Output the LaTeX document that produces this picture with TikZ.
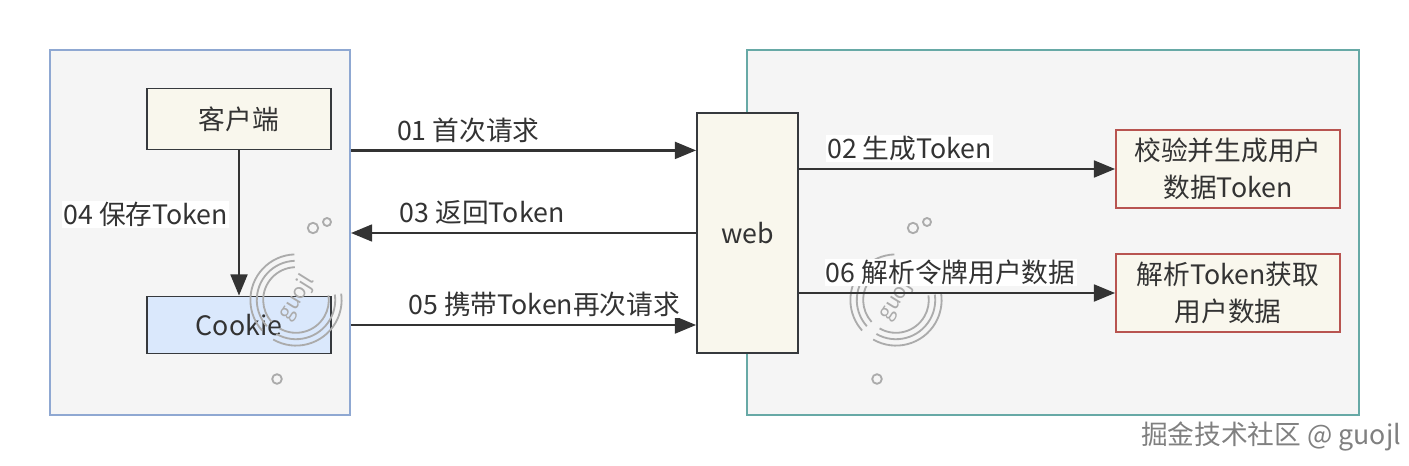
\documentclass[tikz,border=0pt]{standalone}
\usepackage{fontspec}
\setmainfont{Noto Sans CJK SC}
\usepackage{xcolor}
\usetikzlibrary{arrows.meta}
\usetikzlibrary{positioning}

\definecolor{areagray}{HTML}{F5F5F5}
\definecolor{clientblue}{HTML}{8FA8D2}
\definecolor{serverteal}{HTML}{67A9A6}
\definecolor{boxcream}{HTML}{F9F7ED}
\definecolor{cookieblue}{HTML}{DAE8FC}
\definecolor{boxline}{HTML}{36393D}
\definecolor{boxred}{HTML}{B85450}
\definecolor{arrowdark}{HTML}{333333}
\definecolor{markgray}{HTML}{ABABAB}

\tikzset{
  txt/.style={font=\fontsize{19pt}{26pt}\selectfont, text=arrowdark},
  area/.style={draw, line width=1.4pt, fill=areagray},
  box/.style={txt, draw=boxline, line width=1.3pt, fill=boxcream, align=center},
  redbox/.style={box, draw=boxred, minimum width=5.6cm, minimum height=1.95cm},
  flow/.style={draw=arrowdark, line width=1.6pt, -{Triangle[length=15pt,width=12pt]}},
  lbl/.style={txt, fill=white, inner sep=1pt},
  wmark/.style={draw=markgray, line width=1.3pt}
}

\begin{document}
\begin{tikzpicture}[x=0.025cm, y=-0.025cm]

  \fill[white] (0,0) rectangle (1409,466);
  \useasboundingbox (0,0) rectangle (1409,466);

%%%%%%%%%%%% client side
  \node[area, draw=clientblue, minimum width=7.5cm, minimum height=9.125cm] (clientarea) at (200,232.5) {};
  \node[box, minimum width=4.6cm, minimum height=1.525cm] (client) at (239,119) {客户端};
  \node[box, fill=cookieblue, minimum width=4.6cm, minimum height=1.425cm] (cookie) at (239,325) {Cookie};

%%%%%%%%%%%% server side
  \node[area, draw=serverteal, minimum width=15.3cm, minimum height=9.125cm] (serverarea) at (1053,232.5) {};
  \node[box, minimum width=2.525cm, minimum height=6cm] (web) at (747.5,233) {web};
  \node[redbox] (check) at (1228,169) {校验并生成用户\\数据Token};
  \node[redbox] (parse) at (1228,293) {解析Token获取\\用户数据};

%%%%%%%%%%%% watermark
  \foreach \dx in {0,600} {
    \begin{scope}[shift={(\dx,0)}]
      \foreach \r in {0.82,0.98,1.14} {
        \draw[wmark] (296,300) ++(92:\r cm) arc[start angle=92, end angle=222, radius=\r cm];
        \draw[wmark] (296,300) ++(-120:\r cm) arc[start angle=-120, end angle=8, radius=\r cm];
      }
      \node[rotate=58, text=markgray, font=\fontsize{15pt}{17pt}\selectfont] (logo\dx) at (297,298) {guojl};
      \draw[wmark] (313,228) circle (0.13cm);
      \draw[wmark] (327,222) circle (0.1cm);
      \draw[wmark] (277,379) circle (0.12cm);
    \end{scope}
  }

%%%%%%%%%%%% requests
  \draw[flow] (clientarea.east |- client.south) -- node[lbl, above=4pt, pos=0.34] {01 首次请求} (web.west |- client.south);
  \draw[flow] (web.west) -- node[lbl, above=4pt, pos=0.62] {03 返回Token} (clientarea.east |- web.west);
  \draw[flow] (clientarea.east |- cookie) -- node[lbl, above=4pt, pos=0.56] {05 携带Token再次请求} (web.west |- cookie);
  \draw[flow] (client) -- node[lbl, left=6pt, pos=0.44] {04 保存Token} (cookie);

  \draw[flow] (web.east |- check) -- node[lbl, above=4pt, pos=0.35] {02 生成Token} (check.west);
  \draw[flow] (web.east |- parse) -- node[lbl, above=4pt, pos=0.48] {06 解析令牌用户数据} (parse.west);

  \node[txt, text=gray] (credit) at (1271,436) {掘金技术社区 @ guojl};

\end{tikzpicture}
\end{document}
